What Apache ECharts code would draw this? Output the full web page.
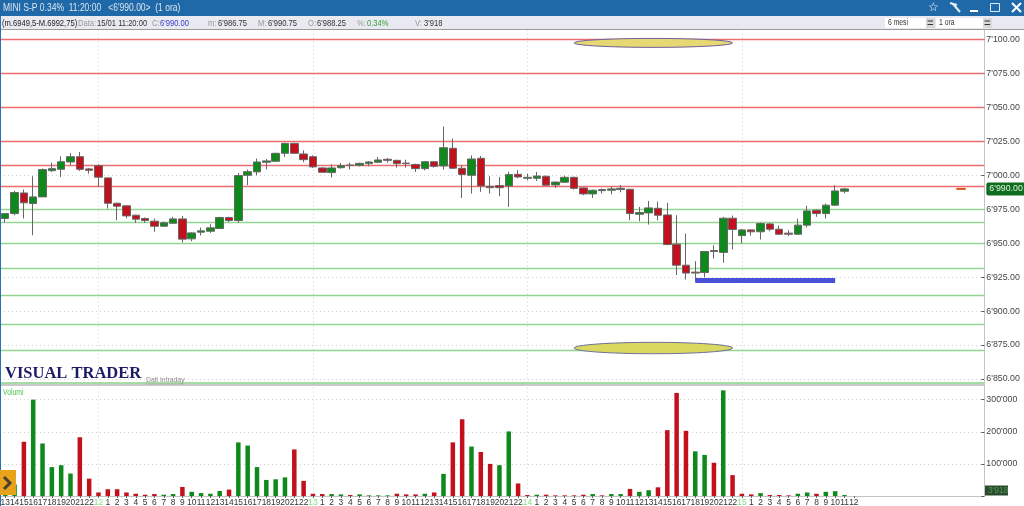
<!DOCTYPE html>
<html>
<head>
<meta charset="utf-8">
<title>MINI S-P</title>
<style>
  html, body { margin: 0; padding: 0; background: #fff; }
  #chart { width: 1024px; height: 506px; }
</style>
<script src="https://cdn.jsdelivr.net/npm/echarts@6/dist/echarts.min.js"></script>
</head>
<body>
<div id="chart"></div>
<script>
// Hour labels, one per bar. The green ones (dayMarks) open a new day.
const hourLabels = [
  '13','14','15','16','17','18','19','20','21','22',
  '12','1','2','3','4','5','6','7','8','9','10','11','12','13','14','15','16','17','18','19','20','21','22',
  '13','1','2','3','4','5','6','7','8','9','10','11','12','13','14','15','16','17','18','19','20','21','22',
  '14','1','2','3','4','5','6','7','8','9','10','11','12','13','14','15','16','17','18','19','20','21','22',
  '15','1','2','3','4','5','6','7','8','9','10','11','12'
];
const dayMarks = [10, 33, 56, 79];

// open, close, low, high
const candles = [
  [6968.2,6971.8,6965.2,6971.8],[6971.8,6987.3,6970.6,6988.5],[6987,6979.7,6968.2,6989.5],[6979.2,6984.1,6955.9,6999.3],
  [6984.1,7004.2,6984,7005],[7003.4,7004.9,7002.5,7009.3],[7004.4,7010,6998.8,7014],[7009.8,7013.7,7007.4,7016.4],
  [7013.7,7004.4,7003.2,7017.2],[7004.7,7003.7,7001.2,7005.4],[7007.1,6998.6,6991.4,7008.1],[6998.1,6979.4,6975.5,6998.5],
  [6979.4,6977.2,6966.9,6979.8],[6977.5,6970.1,6968.2,6978],[6970.6,6967.7,6965,6971],[6968.2,6966.7,6965,6969],
  [6966.2,6962.5,6958.4,6968.2],[6962.5,6965,6962,6966],[6964.7,6967.9,6964.5,6969.4],[6967.9,6953,6950.5,6970.1],
  [6953.2,6957.6,6951.5,6958],[6958.1,6959.1,6955.7,6961.5],[6958.8,6961.3,6957.6,6964],[6960.8,6968.9,6960.5,6969.5],
  [6968.9,6966.7,6965.5,6969.5],[6966.7,6999.8,6965,7001.7],[7000,7002.7,6992.7,7004.2],[7002.5,7009.8,7000,7012.3],
  [7009.6,7010.6,7004.4,7012],[7010.3,7016.2,7010,7016.6],[7016.2,7023.5,7013.5,7024],[7023.5,7016.2,7016,7024],
  [7015.7,7011.5,7009.6,7018.4],[7013.7,7006.2,7005.4,7014.7],[7005.4,7002.2,7002,7006],[7002,7005.4,6998.3,7008.1],
  [7005.6,7007.1,7004.9,7009.1],[7007.6,7007.2,7004.2,7009.3],[7007.4,7008.8,7006.6,7009.3],[7008.6,7009.8,7006.6,7010.5],
  [7009.6,7011.3,7009.1,7013.5],[7011.8,7011,7009.3,7012.7],[7011,7008.6,7005.6,7011.5],[7009,7008.6,7005.6,7011.5],
  [7008,7004.9,7002.5,7008.5],[7004.9,7010,7003.7,7010.5],[7010,7006.6,7005.6,7010.5],[7006.9,7020.3,7004.2,7036],
  [7019.9,7005.2,7004.7,7027],[7005.2,7000.5,6983.3,7007.4],[7000,7012,6986.5,7014.7],[7012.5,6992.2,6987.8,7014.2],
  [6991.9,6990.9,6986.5,6999.3],[6992.4,6990.9,6984.6,6998.8],[6992.2,7000.5,6976.7,7002.7],[7000.7,6998.8,6997.8,7003.7],
  [6997.8,6998.5,6996.3,7001.2],[6997.8,6999.5,6995.8,7002.5],[6999.3,6992.7,6992.4,6999.8],[6992.9,6995,6990.7,6995.5],
  [6994.9,6998.5,6994.4,6999.8],[6998.5,6990.4,6989.5,6999],[6990.7,6986.3,6985.3,6991],[6986.3,6989,6983.3,6989.5],
  [6988.7,6989.5,6986.5,6990.2],[6989,6990,6986,6991.9],[6989.5,6990.4,6987.5,6992.9],[6989.7,6971.8,6966.9,6990],
  [6971.3,6972.6,6966.2,6976.7],[6972.3,6976,6963.7,6981.1],[6975.7,6970.6,6966.9,6980.6],[6970.8,6949,6948.5,6979.7],
  [6949.3,6933.8,6926.5,6970.6],[6933.8,6928,6923.3,6957.1],[6928.7,6928,6921.6,6936.8],[6928.4,6943.9,6925,6944.3],
  [6944.6,6943.9,6938.7,6948.5],[6943.2,6968.4,6935.6,6969.4],[6968.4,6960.1,6945.4,6970.4],[6955.6,6959.8,6949.8,6960.5],
  [6959.8,6958.4,6955.6,6960.2],[6958.4,6964.5,6952.7,6965.2],[6964.2,6960.3,6958.8,6965],[6960.3,6956.6,6956.1,6963],
  [6957.4,6956.6,6955.2,6959.6],[6956.6,6963.3,6956.2,6968.1],[6963.3,6973.8,6961.6,6977.5],[6974.3,6971.8,6969.4,6974.8],
  [6971.8,6978,6968.2,6979.2],[6978,6988.5,6977.7,6992.7],[6988.25,6990,6986.75,6990.75]
];

const volumes = [
  20000,36000,169000,300000,163500,90000,96000,70000,183000,54000,11000,21000,21000,11000,7000,4000,6000,4000,6000,28000,
  13000,9000,7000,15500,20000,167000,157000,90000,50000,52000,58000,145000,47000,7000,6000,6000,5000,3000,5000,2000,
  2000,2000,7000,5000,5000,7000,11000,69000,167000,239000,154000,137000,100000,96000,201000,39000,3000,4000,4000,2000,
  2000,2000,4000,6000,2000,6000,6000,22000,13000,18000,27000,205000,321000,203000,139000,128000,103500,329000,65000,7000,
  5000,9000,3000,3000,2000,7000,11000,7000,13000,15000,3000
];
// g = green bar, r = red bar
const volumeDirs = [
  'g','g','r','g','g','g','g','g','r','r','r','r','r','r','r','r','r','g','g','r',
  'g','g','g','g','r','g','g','g','g','g','g','r','r','r','r','g','g','r','g','g',
  'g','g','r','r','r','g','r','g','r','r','g','r','r','g','g','r','r','g','r','r',
  'r','r','r','g','r','g','g','r','g','g','r','r','r','r','g','g','r','g','r','r',
  'r','g','r','r','r','g','g','r','g','g','g'
];

const redLevels = [7100, 7075, 7050, 7025, 7007.5, 6992];
const greenLevels = [6975, 6965.2, 6950, 6931.8, 6911.5, 6890, 6871.5];
const lastPrice = 6990;

// annotations drawn on the price panel: first bar, last bar, top value, bottom value
const ellipses = [
  [62, 79, 7100.8, 7094.2, '#e6d873', '#6f5f9e'],
  [62, 79, 6877, 6868.6, '#d9d95f', '#6f6f9e']
];
const flatMarks = [
  [75, 90, 6922.6, 5, '#4a4fd8'],
  [102.5, 103.8, 6990, 2, '#d9541a']
];

const UP = '#0e8a1c';
const DOWN = '#c2101c';
const UI_FONT = "'Liberation Sans', sans-serif";
const STEP_TRAIL = 14;

// one blank slot in front, and empty room on the right of the last label
const xLabels = ['', ...hourLabels, ...new Array(STEP_TRAIL).fill('')];
const isDayMark = (idx) => dayMarks.includes(idx - 1);

function priceLabel(v) {
  const s = v.toFixed(2);
  return s[0] + "'" + s.slice(1);
}

function volumeLabel(v) {
  return v === 0 || v > 300000 ? '' : (v / 1000) + "'000";
}

function levelLine(value, color) {
  return { yAxis: value, lineStyle: { color: color, width: 1.3, type: 'solid' } };
}

// Window chrome: title bar, info bar, logos. Fixed pixels, not data.
function text(x, y, str, size, color, extra) {
  return Object.assign({
    type: 'text', x: x, y: y, z: 100,
    style: { text: str, fontSize: size, fill: color, fontFamily: UI_FONT, verticalAlign: 'middle' }
  }, extra || {});
}
function rect(x, y, w, h, fill, extra) {
  return Object.assign({ type: 'rect', z: 99, shape: { x: x, y: y, width: w, height: h }, style: { fill: fill } }, extra || {});
}
function seg(x1, y1, x2, y2, color, width) {
  return { type: 'line', z: 100, shape: { x1: x1, y1: y1, x2: x2, y2: y2 }, style: { stroke: color, lineWidth: width } };
}

const INFO_Y = 23;
const narrow = { scaleX: 0.8 };
const chrome = [
  rect(0, 0, 1024, 16, '#1f69a8'),
  rect(0, 16, 1024, 13, '#e9e9f1'),
  rect(0, 29, 1024, 1, '#9a9a9a'),
  rect(0, 16, 1, 490, '#2a70b2'),
  text(3, 8, "MINI S-P 0.34%  11:20:00   <6'990.00>  (1 ora)", 10.5, '#dbe6f2', { scaleX: 0.81 }),
  text(2, INFO_Y, '(m.6949,5-M.6992,75)', 9.5, '#222', narrow),
  text(78, INFO_Y, 'Data:', 9.5, '#999', narrow),
  text(97, INFO_Y, '15/01 11:20:00', 9.5, '#333', narrow),
  text(152, INFO_Y, 'C:', 9.5, '#999', narrow),
  text(160, INFO_Y, "6'990.00", 9.5, '#3a3ad0', narrow),
  text(208, INFO_Y, 'm:', 9.5, '#999', narrow),
  text(218, INFO_Y, "6'986.75", 9.5, '#333', narrow),
  text(258, INFO_Y, 'M:', 9.5, '#999', narrow),
  text(268, INFO_Y, "6'990.75", 9.5, '#333', narrow),
  text(308, INFO_Y, 'O:', 9.5, '#999', narrow),
  text(317, INFO_Y, "6'988.25", 9.5, '#333', narrow),
  text(357, INFO_Y, '%:', 9.5, '#999', narrow),
  text(367, INFO_Y, '0.34%', 9.5, '#3aa03a', narrow),
  text(415, INFO_Y, 'V:', 9.5, '#999', narrow),
  text(424, INFO_Y, "3'918", 9.5, '#333', narrow),
  // period selectors
  rect(885, 18, 41, 10, '#fff'),
  rect(926, 18, 9, 10, '#d8d8d8'),
  text(888, INFO_Y, '6 mesi', 8.5, '#333', narrow),
  rect(936, 18, 47, 10, '#fff'),
  rect(983, 18, 9, 10, '#d8d8d8'),
  text(939, INFO_Y, '1 ora', 8.5, '#333', narrow),
  seg(927.5, 21, 933, 21, '#333', 1), seg(927.5, 24.5, 933, 24.5, '#333', 1),
  seg(984.5, 21, 990, 21, '#333', 1), seg(984.5, 24.5, 990, 24.5, '#333', 1),
  // window icons
  text(928, 7.5, '\u2606', 12, '#fff'),
  seg(950, 3, 957, 5, '#e4edf6', 2), seg(953, 4, 960, 12, '#e4edf6', 2),
  seg(970, 11, 978, 11, '#fff', 2),
  { type: 'rect', z: 100, shape: { x: 990.5, y: 3.5, width: 9, height: 8 }, style: { fill: 'none', stroke: '#dfe9f4', lineWidth: 1 } },
  seg(1012, 3, 1021, 12, '#fff', 2), seg(1021, 3, 1012, 12, '#fff', 2),
  // panel separator
  rect(1, 382, 984, 2, '#a5dba5'),
  rect(1, 384, 984, 2, '#c9c9c9'),
  rect(984, 379, 1, 6, '#c9c9c9'),
  text(5, 374, 'VISUAL TRADER', 16.5, '#1c1c66', { style: { text: 'VISUAL TRADER', fontSize: 16.5, fontWeight: 'bold', fill: '#1c1c66', fontFamily: "'Liberation Serif', serif", verticalAlign: 'middle' } }),
  text(146, 380, 'Dati Intraday', 8, '#888', { scaleX: 0.85 }),
  seg(146, 384, 183, 384, '#999', 0.5),
  text(3, 393, 'Volumi', 8.5, '#4ec24e', narrow),
  // play button
  rect(0, 470, 16, 25, '#e8a31a'),
  { type: 'polyline', z: 100, shape: { points: [[4, 477], [10, 483], [4, 489]] }, style: { fill: 'none', stroke: '#4a4030', lineWidth: 3 } },
  // current volume badge
  rect(985, 485.5, 23, 10, '#2c4a30'),
  text(988, 491, "3'918", 8.5, '#4f9a50')
];

function renderEllipse(params, api) {
  const p0 = api.coord([api.value(0), api.value(2)]);
  const p1 = api.coord([api.value(1), api.value(3)]);
  const item = ellipses[params.dataIndex];
  return {
    type: 'ellipse',
    shape: { cx: (p0[0] + p1[0]) / 2, cy: (p0[1] + p1[1]) / 2, rx: (p1[0] - p0[0]) / 2, ry: (p1[1] - p0[1]) / 2 },
    style: { fill: item[4], stroke: item[5], lineWidth: 1 }
  };
}

function renderFlatMark(params, api) {
  const p0 = api.coord([api.value(0), api.value(2)]);
  const p1 = api.coord([api.value(1), api.value(2)]);
  const item = flatMarks[params.dataIndex];
  return {
    type: 'rect',
    shape: { x: p0[0], y: p0[1] - item[3] / 2, width: p1[0] - p0[0], height: item[3] },
    style: { fill: item[4] }
  };
}

const dayLine = {
  show: true,
  interval: (idx) => isDayMark(idx),
  lineStyle: { color: '#cfcfcf', type: [1, 3], width: 1 }
};
const gridDots = { show: true, lineStyle: { color: '#cfcfcf', type: [1, 3], width: 1 } };
const rightLine = { show: true, lineStyle: { color: '#c4c4c4', width: 1 } };
const rightTick = { show: true, inside: true, length: 3, lineStyle: { color: '#555' } };
const rightLabel = { color: '#444', fontSize: 8.8, margin: 2, fontFamily: UI_FONT };

const option = {
  animation: false,
  backgroundColor: '#fff',
  graphic: { elements: chrome },
  grid: [
    { left: -4.1, width: 988.45, top: 5.55, height: 373.45, outerBoundsMode: 'none' },
    { left: -4.1, width: 988.45, top: 383.6, height: 112.4, outerBoundsMode: 'none' }
  ],
  xAxis: [
    {
      type: 'category', gridIndex: 0, data: xLabels, boundaryGap: false,
      axisLine: { show: false }, axisTick: { show: false }, axisLabel: { show: false },
      splitLine: dayLine
    },
    {
      type: 'category', gridIndex: 1, data: xLabels, boundaryGap: false,
      axisLine: { lineStyle: { color: '#c4c4c4' } },
      axisTick: { show: true, length: 2, interval: (idx) => idx >= 1 && idx <= hourLabels.length, lineStyle: { color: '#666' } },
      axisLabel: {
        interval: 0, margin: 3, fontSize: 8.4, fontFamily: UI_FONT,
        hideOverlap: false, showMinLabel: true, showMaxLabel: true,
        color: (value, idx) => (isDayMark(idx) ? '#7fe07f' : '#333')
      },
      splitLine: dayLine
    }
  ],
  yAxis: [
    {
      type: 'value', gridIndex: 0, position: 'right', min: 6850, max: 7125, interval: 25,
      axisLine: rightLine, axisTick: rightTick,
      axisLabel: Object.assign({}, rightLabel, { formatter: (v) => (v > 7100 ? '' : priceLabel(v)) }),
      splitLine: gridDots
    },
    {
      type: 'value', gridIndex: 1, position: 'right', min: 0, max: 350000, interval: 100000,
      axisLine: rightLine, axisTick: rightTick,
      axisLabel: Object.assign({}, rightLabel, { formatter: volumeLabel }),
      splitLine: gridDots
    }
  ],
  series: [
    {
      type: 'candlestick', xAxisIndex: 0, yAxisIndex: 0, z: 3, clip: false, barWidth: 8,
      data: [['-', '-', '-', '-'], ...candles],
      itemStyle: { color: UP, color0: DOWN, borderColor: '#666', borderColor0: '#666', borderWidth: 1 },
      markLine: {
        silent: true, symbol: 'none', z: 1, animation: false,
        label: { show: false },
        data: [
          ...redLevels.map((v) => levelLine(v, '#ec6e70')),
          ...greenLevels.map((v) => levelLine(v, '#93d593')),
          {
            yAxis: lastPrice,
            lineStyle: { color: 'transparent', width: 1 },
            label: {
              show: true, position: 'end', distance: 2, formatter: priceLabel(lastPrice),
              color: '#e6f2e6', backgroundColor: '#0d6e1e', padding: [2, 3], borderRadius: 2,
              fontSize: 8.8, fontFamily: UI_FONT
            }
          }
        ]
      }
    },
    {
      type: 'custom', xAxisIndex: 0, yAxisIndex: 0, z: 4, renderItem: renderEllipse,
      encode: { x: [0, 1], y: [2, 3] },
      data: ellipses.map((e) => e.slice(0, 4))
    },
    {
      type: 'custom', xAxisIndex: 0, yAxisIndex: 0, z: 4, renderItem: renderFlatMark,
      encode: { x: [0, 1], y: 2 },
      data: flatMarks.map((m) => m.slice(0, 3))
    },
    {
      type: 'bar', xAxisIndex: 1, yAxisIndex: 1, barWidth: 4.5, z: 3,
      data: ['-', ...volumes.map((v, i) => ({
        value: v,
        itemStyle: { color: volumeDirs[i] === 'g' ? UP : DOWN }
      }))]
    }
  ]
};

const chart = echarts.init(document.getElementById('chart'), null, { renderer: 'canvas' });
chart.setOption(option);
</script>
</body>
</html>
